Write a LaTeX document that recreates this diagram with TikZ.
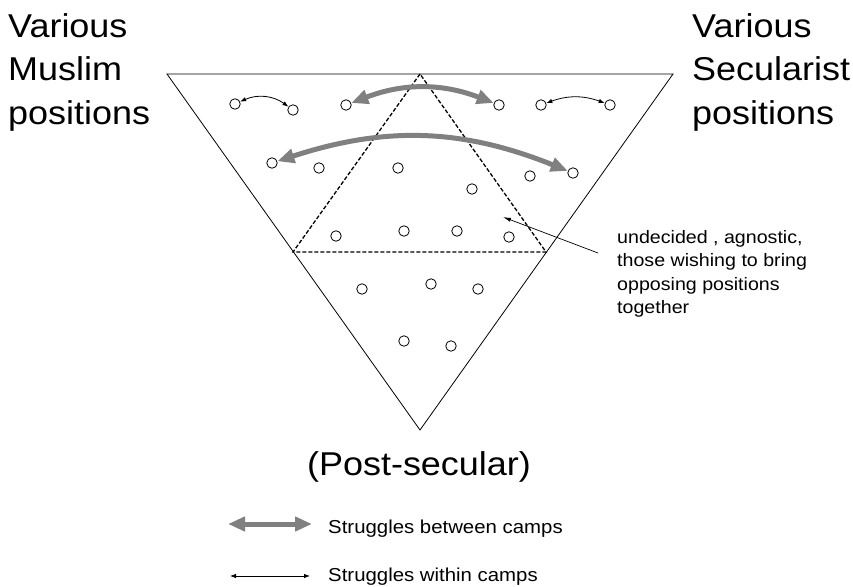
\documentclass[tikz,border=0pt]{standalone}
\usepackage{fontspec}
\setmainfont{Liberation Sans}[FakeStretch=1.09]
\usetikzlibrary{arrows.meta}
\definecolor{campgray}{RGB}{128,128,128}

\begin{document}
\begin{tikzpicture}[x=1pt,y=-1pt,>=Latex,
  opinion/.style={circle,draw,fill=white,line width=0.8pt,minimum size=10.5pt,inner sep=0pt},
  between/.style={{Triangle[length=17pt,width=14pt]}-{Triangle[length=17pt,width=14pt]},line width=5pt,draw=campgray},
  within/.style={{Latex[length=6pt,width=4.5pt]}-{Latex[length=6pt,width=4.5pt]},line width=0.8pt},
  big/.style={font=\fontsize{33}{43.5}\selectfont,align=left,inner sep=0pt}]
  \useasboundingbox (0,0) rectangle (853,586);
  % outer triangle and the dashed middle one
  \coordinate (tl) at (167,74); \coordinate (tr) at (673,74); \coordinate (bt) at (420,430);
  \coordinate (ap) at (420,74); \coordinate (dl) at (293,252); \coordinate (dr) at (546,252);
  \draw[line width=0.8pt] (tl) -- (tr) -- (bt) -- cycle;
  \draw[line width=1.3pt,dash pattern=on 4pt off 2pt] (ap) -- (dl) -- (dr) -- cycle;
  % positions
  \foreach \n/\x/\y in {m1/235/104,m2/293/110,m3/346/105,s1/499/105,s2/541/105,s3/610/105,
      m4/272/163,u1/319/168,u2/398/168,u3/472/189,s4/530/176,s5/573/173,
      u4/336/236,u5/404/231,u6/457/231,u7/509/237,
      p1/362/289,p2/431/284,p3/478/289,p4/404/341,p5/451/346}
    {\node[opinion] (\n) at (\x,\y) {};}
  % struggles
  \draw[within] (m1) to[bend left=30] (m2);
  \draw[within] (s2) to[bend left=20] (s3);
  \draw[between] (m3) to[bend left=21] (s1);
  \draw[between] (m4) to[bend left=20] (s5);
  % labels
  \node[big,anchor=north west] (muslim) at (8,13) {Various\\Muslim\\positions};
  \node[big,anchor=north west] (secular) at (692,13) {Various\\Secularist\\positions};
  \node[font=\fontsize{33}{40}\selectfont,anchor=base] (post) at (419,475) {(Post-secular)};
  \node[font=\fontsize{18}{23.5}\selectfont,align=left,inner sep=0pt,anchor=north west] (undec) at (617,230)
    {undecided , agnostic,\\those wishing to bring\\opposing positions\\together};
  \coordinate (mid) at (503,217);
  \draw[-{Latex[length=8pt,width=4pt]},line width=0.7pt] ([xshift=-19pt,yshift=-23pt]undec.north west) -- (mid);
  % legend
  \coordinate (lb1) at (228,524); \coordinate (lb2) at (312,524);
  \coordinate (lw1) at (230,576); \coordinate (lw2) at (310,576);
  \draw[between] (lb1) -- (lb2);
  \draw[within] (lw1) -- (lw2);
  \node[font=\fontsize{18.7}{22}\selectfont,anchor=base west,inner sep=0pt] (lgbetween) at (328,533) {Struggles between camps};
  \node[font=\fontsize{18.7}{22}\selectfont,anchor=base west,inner sep=0pt] (lgwithin) at (328,581) {Struggles within camps};
\end{tikzpicture}
\end{document}
